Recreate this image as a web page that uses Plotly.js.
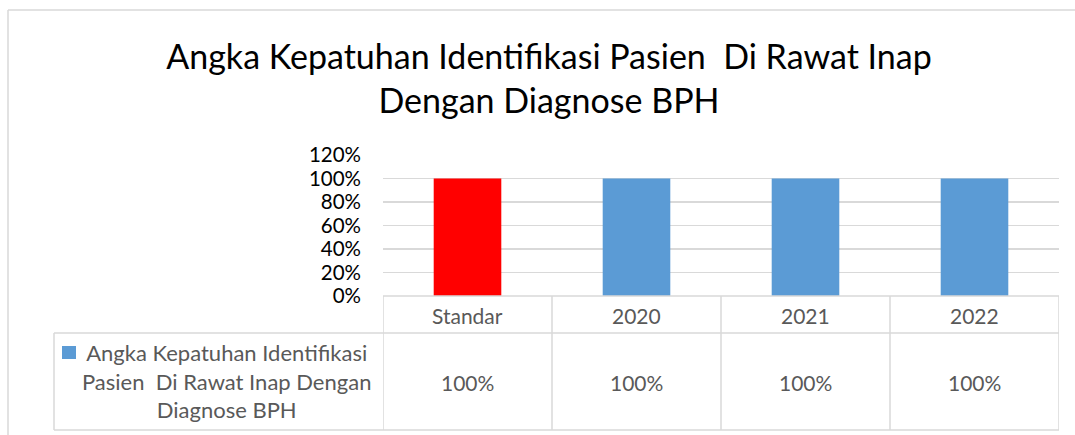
<!DOCTYPE html>
<html>
<head>
<meta charset="utf-8">
<script src="https://cdn.plot.ly/plotly-3.0.1.min.js"></script>
<style>html,body{margin:0;padding:0;background:#fff;}#chart{width:1075px;height:435px;}</style>
</head>
<body>
<div id="chart"></div>
<script>
const categories = ["Standar", "2020", "2021", "2022"];
const values = [1.00, 1.00, 1.00, 1.00];
const tableLabels = ["100%", "100%", "100%", "100%"];
const seriesName = "Angka Kepatuhan Identifikasi<br>Pasien  Di Rawat Inap Dengan<br>Diagnose BPH";
const titleText = "Angka Kepatuhan Identifikasi Pasien  Di Rawat Inap<br>Dengan Diagnose BPH";
const barColors = ["#FF0000", "#5B9BD5", "#5B9BD5", "#5B9BD5"];

const W = 1075, H = 435;
const L = 383, R = 1059, T = 155, B = 296;
const px = x => (x - L) / (R - L);
const py = y => (B - y) / (B - T);
const gridCol = "#d9d9d9";
const fontFam = "Lato, 'Open Sans', sans-serif";

const shapes = [];
function pline(x0, y0, x1, y1) {
  shapes.push({type: "line", xref: "paper", yref: "paper", x0: px(x0), x1: px(x1), y0: py(y0), y1: py(y1),
    line: {color: gridCol, width: 1.5}, layer: "above"});
}
// outer chart border
pline(8, 10, 1080, 10);
pline(8, 10, 8, 440);
// table
const rowHeadTop = 296, rowDataTop = 333, rowBottom = 430;
pline(L, rowHeadTop, R, rowHeadTop);
pline(54, rowDataTop, R, rowDataTop);
pline(54, rowBottom, R, rowBottom);
pline(54, rowDataTop, 54, rowBottom);
for (let i = 0; i <= categories.length; i++) {
  shapes.push({type: "line", xref: "x", yref: "paper", x0: i - 0.5, x1: i - 0.5, y0: py(rowHeadTop), y1: py(rowBottom),
    line: {color: gridCol, width: 1.5}, layer: "above"});
}
// legend key square
shapes.push({type: "rect", xref: "paper", yref: "paper", x0: px(62), x1: px(76), y0: py(359), y1: py(346),
  fillcolor: "#5B9BD5", line: {width: 0}});

const annotations = [];
categories.forEach((c, i) => {
  annotations.push({x: i, xref: "x", y: py(315), yref: "paper", text: c, showarrow: false,
    font: {family: fontFam, size: 21, color: "#595959"}, xanchor: "center", yanchor: "middle"});
  annotations.push({x: i, xref: "x", y: py(382), yref: "paper", text: tableLabels[i], showarrow: false,
    font: {family: fontFam, size: 21, color: "#595959"}, xanchor: "center", yanchor: "middle"});
});
annotations.push({x: px(226), xref: "paper", y: py(381), yref: "paper", text: seriesName, showarrow: false,
  align: "center", font: {family: fontFam, size: 22, color: "#595959"}, xanchor: "center", yanchor: "middle"});

const data = [{
  type: "bar", x: categories, y: values, marker: {color: barColors}, hoverinfo: "skip", showlegend: false
}];

const layout = {
  width: W, height: H,
  margin: {l: L, r: W - R, t: T, b: H - B, pad: 0},
  paper_bgcolor: "#ffffff", plot_bgcolor: "#ffffff",
  title: {text: titleText, font: {family: fontFam, size: 34, color: "#000000"}, x: 549 / W, xanchor: "center",
    y: 1 - 69 / H, yanchor: "top"},
  bargap: 0.6,
  xaxis: {type: "category", range: [-0.5, 3.5], showticklabels: false, showgrid: false, zeroline: false, showline: false, fixedrange: true},
  yaxis: {range: [0, 1.2], dtick: 0.2, tick0: 0, tickformat: ".0%", showgrid: true, gridcolor: gridCol, gridwidth: 1.5,
    zeroline: false, showline: false, ticks: "", ticklabelstandoff: 21,
    tickfont: {family: fontFam, size: 20.5, color: "#000000"}, fixedrange: true},
  shapes: shapes, annotations: annotations,
  font: {family: fontFam}
};

Plotly.newPlot("chart", data, layout, {displayModeBar: false, staticPlot: true});
</script>
</body>
</html>
